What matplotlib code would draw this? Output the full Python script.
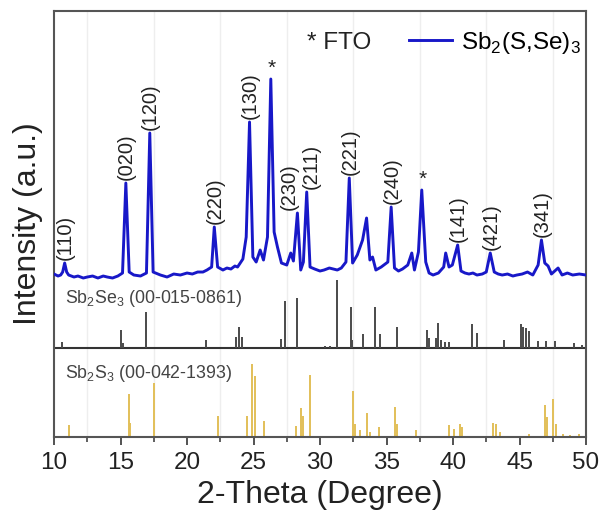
import matplotlib
matplotlib.use("Agg")
import matplotlib.pyplot as plt
from matplotlib.lines import Line2D
from matplotlib.ticker import MultipleLocator
import numpy as np

plt.rcParams['font.family'] = ['Liberation Sans', 'DejaVu Sans']
plt.rcParams['mathtext.fontset'] = 'custom'
plt.rcParams['mathtext.rm'] = 'Liberation Sans'

# measured pattern of the Sb2(S,Se)3 film (2-theta, intensity a.u.)
two_theta = [10.0, 10.3, 10.5, 10.65, 10.8, 10.95, 11.1, 11.5, 11.8, 12.2,
             12.5, 12.9, 13.3, 13.7, 14.0, 14.4, 14.8, 15.15, 15.4, 15.65,
             16.0, 16.5, 16.95, 17.2, 17.45, 18.0, 18.5, 19.0, 19.5, 20.0,
             20.4, 20.8, 21.2, 21.5, 21.85, 22.05, 22.3, 22.7, 23.0, 23.3,
             23.6, 23.8, 24.2, 24.45, 24.7, 24.95, 25.2, 25.5, 25.75, 26.05,
             26.3, 26.55, 26.8, 27.1, 27.5, 27.8, 28.0, 28.3, 28.55, 28.75,
             29.0, 29.25, 29.6, 30.0, 30.3, 30.7, 31.0, 31.3, 31.6, 31.95,
             32.2, 32.45, 32.8, 33.2, 33.5, 33.75, 33.95, 34.2, 34.6, 35.1,
             35.35, 35.6, 35.9, 36.2, 36.6, 36.9, 37.1, 37.4, 37.65, 37.95,
             38.2, 38.5, 38.9, 39.3, 39.45, 39.7, 39.95, 40.35, 40.6, 40.9,
             41.2, 41.5, 41.8, 42.2, 42.5, 42.8, 43.1, 43.4, 43.7, 44.1,
             44.5, 44.8, 45.2, 45.6, 46.0, 46.4, 46.65, 46.9, 47.15, 47.4,
             47.9, 48.2, 48.6, 49.0, 49.5, 50.0]
intensity = [3, 1, 2, 5, 14, 5, 2, 0, 1, -1,
             0, 1, -1, 1, 0, -1, 1, 4, 94, 5,
             2, 1, 4, 144, 5, 2, 0, 3, 2, 4,
             3, 5, 5, 7, 10, 50, 10, 7, 9, 8,
             11, 10, 18, 40, 155, 20, 15, 27, 17, 40,
             198, 45, 30, 14, 12, 24, 16, 64, 7, 15,
             85, 10, 8, 6, 7, 9, 8, 7, 9, 15,
             99, 14, 22, 37, 59, 17, 20, 7, 10, 15,
             70, 9, 6, 8, 12, 24, 7, 25, 87, 15,
             4, 2, 4, 10, 24, 10, 12, 32, 6, 4,
             3, 4, 2, 3, 5, 24, 5, 3, 2, 3,
             1, 2, 3, 5, 2, 12, 37, 14, 11, 3,
             9, 2, 4, 2, 3, 2]

# reference card Sb2Se3 (00-015-0861)
se_pos = [10.6, 15.0, 15.2, 16.9, 21.45, 23.67, 23.9, 24.1, 27.1, 27.4,
          28.24, 30.4, 30.75, 31.26, 32.3, 32.4, 33.2, 34.15, 34.5, 35.8,
          38.05, 38.2, 38.7, 38.9, 39.1, 39.4, 39.7, 41.4, 41.8, 43.8,
          45.1, 45.3, 45.5, 45.7, 46.4, 47.0, 47.7, 49.1, 49.7]
se_int = [6, 18, 5, 36, 8, 11, 21, 11, 9, 47,
          50, 2, 2, 68, 41, 8, 14, 41, 14, 21,
          18, 10, 10, 25, 8, 6, 6, 24, 15, 8,
          24, 21, 20, 17, 7, 7, 7, 5, 3]

# reference card Sb2S3 (00-042-1393)
s_pos = [11.1, 15.66, 15.75, 17.55, 22.3, 24.5, 24.9, 25.1, 25.8, 28.2,
         28.55, 28.7, 29.25, 32.45, 32.6, 33.0, 33.5, 33.75, 34.4, 35.66,
         35.8, 37.2, 39.7, 40.1, 40.5, 40.7, 43.0, 43.2, 43.5, 45.7,
         46.9, 47.1, 47.5, 47.75, 48.3, 48.8, 49.5]
s_int = [12, 43, 14, 54, 21, 21, 73, 61, 16, 11,
         29, 21, 62, 46, 13, 7, 24, 5, 10, 30,
         13, 7, 12, 8, 13, 10, 14, 13, 5, 3,
         32, 20, 38, 13, 3, 2, 3]

hkl = ['(110)', '(020)', '(120)', '(220)', '(130)', '(230)', '(211)',
       '(221)', '(240)', '(141)', '(421)', '(341)']
hkl_peak = [10.8, 15.4, 17.2, 22.05, 24.7, 28.3, 29.0, 32.2, 35.35, 40.35,
            42.8, 46.65]
fto_peak = [26.3, 37.65]

tt = np.array(two_theta)
ii = np.array(intensity)

blue_base = 160
se_base = 89
s_base = 0

fig = plt.figure(figsize=(6.05, 5.25), dpi=100)
ax = fig.add_axes([0.0893, 0.1676, 0.8793, 0.8114])

# faint vertical grid
for g in np.arange(12.5, 50, 5):
    ax.axvline(g, color='#eeeeee', lw=1, zorder=0)

ax.plot(tt, blue_base + ii, color='#1818c8', lw=2.1, zorder=3)

ax.axhline(se_base, color='#333333', lw=1.5, zorder=2)
ax.vlines(se_pos, se_base, se_base + np.array(se_int), colors='#4a4a4a', lw=1.4)
ax.vlines(s_pos, s_base, s_base + np.array(s_int), colors='#e2bf58', lw=1.4)


def peak_top(x):
    m = np.abs(tt - x) < 0.2
    return blue_base + ii[m].max()


label_dx = {'(230)': -0.65, '(211)': 0.35}
for name, x in zip(hkl, hkl_peak):
    ax.text(x + label_dx.get(name, 0.05), peak_top(x) + 3, name, rotation=90,
            ha='center', va='bottom', fontsize=14.5, color='#222222')
for x in fto_peak:
    ax.text(x + 0.1, peak_top(x) + 1, '*', ha='center', va='bottom',
            fontsize=15, color='#222222')

ax.text(10.85, se_base + 50, 'Sb$_\\mathregular{2}$Se$_\\mathregular{3}$ (00-015-0861)',
        fontsize=12.8, color='#444444', va='center')
ax.text(10.85, s_base + 64, 'Sb$_\\mathregular{2}$S$_\\mathregular{3}$ (00-042-1393)',
        fontsize=12.8, color='#444444', va='center')

ax.set_xlim(10, 50)
ax.set_ylim(0, 426)
ax.set_yticks([])
ax.xaxis.set_major_locator(MultipleLocator(5))
ax.xaxis.set_minor_locator(MultipleLocator(2.5))
ax.tick_params(axis='x', which='major', direction='out', length=6, width=1.3,
               labelsize=17.5, pad=5, color='#444444', labelcolor='#222222')
ax.tick_params(axis='x', which='minor', direction='out', length=3.5, width=1.2,
               color='#444444')
for sp in ax.spines.values():
    sp.set_color('#555555')
    sp.set_linewidth(1.5)

ax.set_xlabel('2-Theta (Degree)', fontsize=23, color='#222222', labelpad=4)
ax.set_ylabel('Intensity (a.u.)', fontsize=23, color='#222222', labelpad=8)

ax.text(0.476, 0.925, '* FTO', transform=ax.transAxes, fontsize=17.5,
        va='center', ha='left', color='#222222')
handle = Line2D([], [], color='#1818c8', lw=2.1)
ax.legend([handle], ['Sb$_\\mathregular{2}$(S,Se)$_\\mathregular{3}$'],
          loc='center right', bbox_to_anchor=(1.0, 0.925), frameon=False,
          fontsize=17.5, handlelength=1.75, handletextpad=0.4,
          borderpad=0.1, borderaxespad=0.1)

fig.savefig('out.png', dpi=100)
